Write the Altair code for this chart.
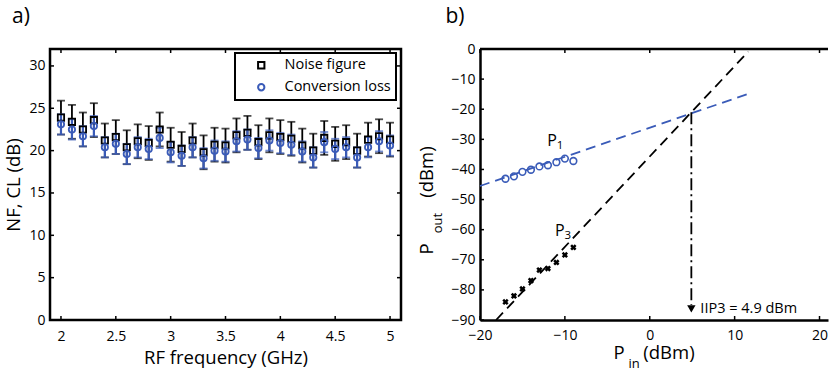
import altair as alt
import pandas as pd

# ---------------- data: panel a ----------------
FREQ = [2.0, 2.1, 2.2, 2.3, 2.4, 2.5, 2.6, 2.7, 2.8, 2.9, 3.0, 3.1, 3.2, 3.3, 3.4, 3.5,
        3.6, 3.7, 3.8, 3.9, 4.0, 4.1, 4.2, 4.3, 4.4, 4.5, 4.6, 4.7, 4.8, 4.9, 5.0]
NF = [23.9, 23.4, 22.5, 23.6, 21.2, 21.6, 20.4, 21.1, 20.9, 22.5, 20.7, 20.2, 21.2, 19.8, 20.7, 20.6,
      21.8, 22.1, 21.0, 21.8, 21.6, 21.4, 20.6, 20.0, 21.5, 20.8, 21.0, 20.0, 21.3, 21.7, 21.3]
CL = [23.1, 22.5, 21.7, 22.9, 20.4, 20.8, 19.6, 20.4, 20.2, 21.5, 19.8, 19.4, 20.4, 19.1, 20.0, 19.9,
      21.1, 21.3, 20.3, 21.2, 20.9, 20.7, 19.9, 19.2, 21.0, 20.2, 20.4, 19.2, 20.4, 21.1, 20.6]
NF_ERR = 2.0
CL_ERR = 1.2
SERIES = ["Noise figure", "Conversion loss"]
X1_TICKS = [2, 2.5, 3, 3.5, 4, 4.5, 5]
Y1_TICKS = [0, 5, 10, 15, 20, 25, 30]

# ---------------- data: panel b ----------------
PIN = [-17, -16, -15, -14, -13, -12, -11, -10, -9]
P1 = [-43.1, -42.3, -40.8, -40.1, -39.0, -38.6, -37.6, -36.4, -37.2]
P3 = [-84.0, -82.0, -79.7, -76.9, -73.4, -72.9, -70.9, -68.4, -65.9]
FIT1_X = [-20, 12]
FIT1_Y = [-45.5, -14.5]
FIT3_X = [-18.1, 11.6]
FIT3_Y = [-90, -0.9]
IIP3 = 4.9
IIP3_Y = [-21, -85]
ARROW_Y = -86.3
X2_TICKS = [-20, -10, 0, 10, 20]
Y2_TICKS = [0, -10, -20, -30, -40, -50, -60, -70, -80, -90]

BLUE = "#3A5BB8"
FONT = "Open Sans"
W1, W2, H = 351, 348, 271
TL = 4  # inward tick length

# ================= panel a =================
n = len(FREQ)
dfa = pd.DataFrame({
    "freq": FREQ * 2,
    "series": [SERIES[0]] * n + [SERIES[1]] * n,
    "val": NF + CL,
    "lo": [v - NF_ERR for v in NF] + [v - CL_ERR for v in CL],
    "hi": [v + NF_ERR for v in NF] + [v + CL_ERR for v in CL],
})

xs1 = alt.Scale(domain=[1.9, 5.1], nice=False, zero=False)
ys1 = alt.Scale(domain=[0, 32], nice=False, zero=False)
ax_x1 = alt.Axis(values=X1_TICKS, format="~g", title="RF frequency (GHz)", grid=False,
                 ticks=False, domain=False, labelPadding=9, labelFlush=False, titlePadding=5)
ax_y1 = alt.Axis(values=Y1_TICKS, title="NF, CL (dB)", grid=False, ticks=False,
                 domain=False, labelPadding=5, titlePadding=5)


def X1(f):
    return alt.X(f, type="quantitative", scale=xs1, axis=ax_x1)


def Y1(f):
    return alt.Y(f, type="quantitative", scale=ys1, axis=ax_y1)


def errbars(df, color, width):
    bars = alt.Chart(df).mark_rule(color=color, strokeWidth=width).encode(
        x=X1("freq"), y=Y1("lo"), y2="hi")
    caps = alt.Chart(df).transform_fold(["lo", "hi"], as_=["end", "v"]).mark_tick(
        orient="horizontal", size=8, thickness=1.8, color=color).encode(
        x=X1("freq"), y=Y1("v"))
    return [bars, caps]


leg = alt.Legend(title=None, orient="none", legendX=185, legendY=4, padding=5,
                 symbolOffset=14, labelOffset=16, rowPadding=6, strokeColor="black",
                 fillColor="white", labelFont=FONT, labelFontSize=14.5, labelColor="black",
                 symbolStrokeWidth=2, symbolSize=40)

points_a = alt.Chart(dfa).mark_point(filled=False, strokeWidth=1.8, size=40, opacity=1).encode(
    x=X1("freq"), y=Y1("val"),
    color=alt.Color("series:N", scale=alt.Scale(domain=SERIES, range=["black", BLUE]), legend=leg),
    shape=alt.Shape("series:N", scale=alt.Scale(domain=SERIES, range=["square", "circle"]), legend=leg),
)

ty1 = pd.DataFrame({"t": Y1_TICKS})
tx1 = pd.DataFrame({"t": X1_TICKS})
ticks_a = [
    alt.Chart(ty1).mark_rule(color="black", strokeWidth=1.5).encode(y=Y1("t"), x=alt.value(0), x2=alt.value(TL)),
    alt.Chart(ty1).mark_rule(color="black", strokeWidth=1.5).encode(y=Y1("t"), x=alt.value(W1), x2=alt.value(W1 - TL)),
    alt.Chart(tx1).mark_rule(color="black", strokeWidth=1.5).encode(x=X1("t"), y=alt.value(0), y2=alt.value(TL)),
    alt.Chart(tx1).mark_rule(color="black", strokeWidth=1.5).encode(x=X1("t"), y=alt.value(H), y2=alt.value(H - TL)),
]

one = pd.DataFrame({"t": ["a)"]})
# white, invisible anchor that fixes the top-left corner of the page
anchor = alt.Chart(one).mark_rule(color="white", strokeWidth=1).encode(
    x=alt.value(-47.5), x2=alt.value(-46.5), y=alt.value(-46.5))
letter_a = alt.Chart(one).mark_text(font=FONT, fontSize=21, align="center", baseline="middle",
                                     color="black").encode(text="t:N", x=alt.value(-29), y=alt.value(-32))

nf_df = dfa[dfa.series == SERIES[0]]
cl_df = dfa[dfa.series == SERIES[1]]
left = alt.layer(
    anchor, *errbars(nf_df, "black", 1.8), *errbars(cl_df, BLUE, 2.2), points_a, *ticks_a, letter_a
).properties(width=W1, height=H, view=alt.ViewBackground(stroke="black", strokeWidth=2.5))

# ================= panel b =================
xs2 = alt.Scale(domain=[-20, 21], nice=False, zero=False)
ys2 = alt.Scale(domain=[-90, 0], nice=False, zero=False)
ax_x2 = alt.Axis(values=X2_TICKS, title=None, grid=False, ticks=False, domain=True,
                 domainColor="black", domainWidth=2.5, labelPadding=8, labelFlush=False)
ax_y2 = alt.Axis(values=Y2_TICKS, title=None, grid=False, ticks=False, domain=True,
                 domainColor="black", domainWidth=2.5, labelPadding=5)


def X2(f):
    return alt.X(f, type="quantitative", scale=xs2, axis=ax_x2)


def Y2(f):
    return alt.Y(f, type="quantitative", scale=ys2, axis=ax_y2)


fit1 = pd.DataFrame({"x": FIT1_X, "y": FIT1_Y})
fit3 = pd.DataFrame({"x": FIT3_X, "y": FIT3_Y})
p1 = pd.DataFrame({"x": PIN, "y": P1})
p3 = pd.DataFrame({"x": PIN, "y": P3})
ip = pd.DataFrame({"x": [IIP3], "y": [IIP3_Y[0]], "y2": [IIP3_Y[1]], "ya": [ARROW_Y],
                   "label": ["IIP3 = %.1f dBm" % IIP3]})

line1 = alt.Chart(fit1).mark_line(color=BLUE, strokeDash=[10, 6], strokeWidth=1.8).encode(x=X2("x"), y=Y2("y"))
line3 = alt.Chart(fit3).mark_line(color="black", strokeDash=[10, 6], strokeWidth=1.8).encode(x=X2("x"), y=Y2("y"))
pts1 = alt.Chart(p1).mark_point(shape="circle", filled=False, color=BLUE, size=45, strokeWidth=1.6, opacity=1).encode(
    x=X2("x"), y=Y2("y"))
pts3 = alt.Chart(p3).mark_point(shape="cross", angle=45, filled=True, color="black", size=40,
                                opacity=1).encode(x=X2("x"), y=Y2("y"))
vline = alt.Chart(ip).mark_rule(color="black", strokeDash=[12, 4, 2, 4], strokeWidth=1.8).encode(
    x=X2("x"), y=Y2("y"), y2="y2")
arrow = alt.Chart(ip).mark_point(shape="triangle-down", filled=True, color="black", size=70, opacity=1).encode(
    x=X2("x"), y=Y2("ya"))
iip_txt = alt.Chart(ip).mark_text(font=FONT, fontSize=14.5, align="left", baseline="middle", dx=9,
                                  color="black").encode(x=X2("x"), y=Y2("ya"), text="label:N")

lab = pd.DataFrame({"x": [-11.5, -10.6], "y": [-30.4, -60.4], "main": ["P", "P"], "sub": ["1", "3"]})
lab_main = alt.Chart(lab).mark_text(font=FONT, fontSize=16, align="center", baseline="middle", color="black").encode(
    x=X2("x"), y=Y2("y"), text="main:N")
lab_sub = alt.Chart(lab).mark_text(font=FONT, fontSize=11.5, align="center", baseline="middle", dx=8, dy=5,
                                   color="black").encode(x=X2("x"), y=Y2("y"), text="sub:N")

ty2 = pd.DataFrame({"t": Y2_TICKS})
tx2 = pd.DataFrame({"t": X2_TICKS})
ticks_b = [
    alt.Chart(ty2).mark_rule(color="black", strokeWidth=1.5).encode(y=Y2("t"), x=alt.value(0), x2=alt.value(TL)),
    alt.Chart(tx2).mark_rule(color="black", strokeWidth=1.5).encode(x=X2("t"), y=alt.value(0), y2=alt.value(TL)),
    alt.Chart(tx2).mark_rule(color="black", strokeWidth=1.5).encode(x=X2("t"), y=alt.value(H), y2=alt.value(H - TL)),
]
oneb = pd.DataFrame({"t": ["b)"]})
top_line = alt.Chart(oneb).mark_rule(color="black", strokeWidth=2.5).encode(
    x=alt.value(0), x2=alt.value(W2), y=alt.value(0))
letter_b = alt.Chart(oneb).mark_text(font=FONT, fontSize=21, align="center", baseline="middle",
                                     color="black").encode(text="t:N", x=alt.value(-25), y=alt.value(-32))


def txt(s, size, x, y, angle=0):
    m = alt.Chart(pd.DataFrame({"t": [s]})).mark_text(
        font=FONT, fontSize=size, angle=angle, align="center", baseline="middle", color="black")
    return m.encode(text="t:N", x=alt.value(x), y=alt.value(y))


ytitle = [txt("P", 18.5, -53, 200, 270), txt("out", 13, -42, 174, 270), txt("(dBm)", 18.5, -53, 123, 270)]
xtitle = [txt("P", 18.5, 139, 304), txt("in", 13, 154, 315), txt("(dBm)", 18.5, 189, 304)]

right = alt.layer(
    line1, line3, pts1, pts3, vline, arrow, iip_txt, lab_main, lab_sub, *ticks_b, top_line, letter_b,
    *ytitle, *xtitle
).properties(width=W2, height=H, view=alt.ViewBackground(strokeOpacity=0))

chart = alt.hconcat(left, right, spacing=79, bounds="flush").properties(
    padding={"left": 0, "top": 0, "right": 0, "bottom": 0}
).configure_axis(
    labelFont=FONT, labelFontSize=14, labelColor="black",
    titleFont=FONT, titleFontSize=18.5, titleFontWeight="normal", titleColor="black"
).configure_legend(strokeWidth=2)

chart.save("out.html", embed_options={"renderer": "svg", "actions": False})
